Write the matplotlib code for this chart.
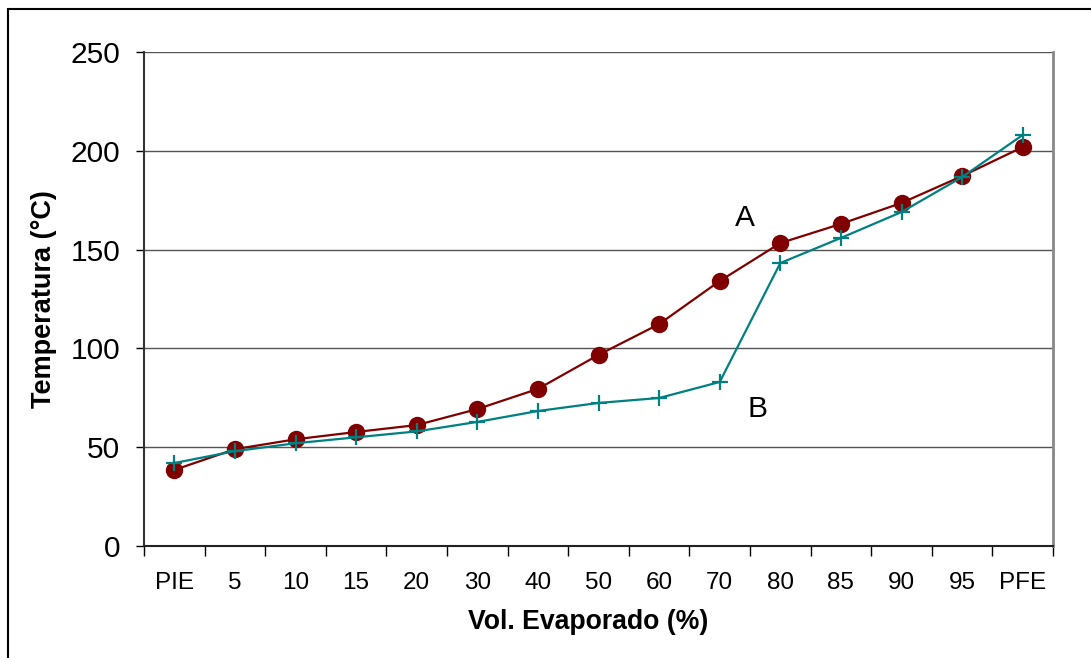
import numpy as np
import matplotlib
matplotlib.use("Agg")
import matplotlib.pyplot as plt
from matplotlib.patches import Rectangle

plt.rcParams['font.family'] = ['Liberation Sans', 'DejaVu Sans']

categories = ["PIE", "5", "10", "15", "20", "30", "40", "50", "60", "70",
              "80", "85", "90", "95", "PFE"]
serie_a = [38.5, 49, 54, 57.7, 61.2, 69.3, 79.5, 96.7, 112.3, 134.1,
           153.3, 163, 173.6, 187.2, 201.9]
serie_b = [42, 48, 52, 55, 58, 62.8, 68.3, 72.4, 74.9, 83,
           143.2, 155.9, 169, 186.7, 208]
y_ticks = [0, 50, 100, 150, 200, 250]

fig = plt.figure(figsize=(10.91, 6.58), dpi=100)
ax = fig.add_axes([0.132, 0.1702, 0.8332, 0.7508])

# marco exterior del grafico
fig.patches.append(Rectangle((8 / 1091, -0.05), 1.2, 1 - 9 / 658 + 0.05,
                             transform=fig.transFigure, fill=False,
                             edgecolor='black', linewidth=1.5, zorder=0))

x = np.arange(len(categories))
ax.plot(x, serie_a, color='#800000', lw=1.6, marker='o', markersize=11.5,
        zorder=3)
ax.plot(x, serie_b, color='#008080', lw=1.6, marker='+', markersize=12,
        markeredgewidth=1.6, zorder=4)

ax.set_xlim(-0.5, len(categories) - 0.5)
ax.set_ylim(0, 250)

ax.set_xticks(np.arange(-0.5, len(categories), 1.0))
ax.set_xticklabels([])
ax.set_xticks(x, minor=True)
ax.set_xticklabels(categories, minor=True, fontsize=17.5)
ax.tick_params(axis='x', which='major', direction='out', length=7,
               width=1, color='black')
ax.tick_params(axis='x', which='minor', length=0, pad=19)

ax.set_yticks(y_ticks)
ax.set_yticklabels([str(v) for v in y_ticks], fontsize=21.5)
ax.tick_params(axis='y', direction='out', length=6, width=1, pad=11)

for v in y_ticks[1:]:
    ax.axhline(v, color='#555555', lw=1.0, zorder=1)

ax.spines['top'].set_visible(False)
ax.spines['right'].set_color('#888888')
ax.spines['right'].set_linewidth(2)
ax.spines['left'].set_color('#333333')
ax.spines['left'].set_linewidth(1.5)
ax.spines['bottom'].set_color('#222222')
ax.spines['bottom'].set_linewidth(1.5)

ax.set_xlabel("Vol. Evaporado (%)", fontsize=19.2, fontweight='bold')
ax.xaxis.set_label_coords(0.489, -0.128)
ax.set_ylabel("Temperatura (°C)", fontsize=19.5, fontweight='bold',
              labelpad=10)

ax.text(9.42, 166, "A", fontsize=21.5, ha='center', va='center')
ax.text(9.63, 69.3, "B", fontsize=21.5, ha='center', va='center')

fig.savefig("out.png", dpi=100)
